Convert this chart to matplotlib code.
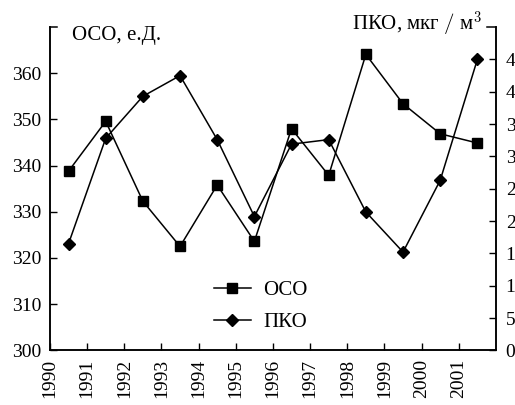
import numpy as np
import matplotlib
matplotlib.use('Agg')
import matplotlib.pyplot as plt

plt.rcParams['font.family'] = ['Liberation Serif', 'DejaVu Serif']
plt.rcParams['mathtext.fontset'] = 'cm'

# данные
years = [1990.5, 1991.5, 1992.5, 1993.5, 1994.5, 1995.5,
         1996.5, 1997.5, 1998.5, 1999.5, 2000.5, 2001.5]
oso = [338.8, 349.6, 332.3, 322.5, 335.8, 323.6,
       348.0, 337.9, 364.1, 353.4, 346.9, 344.9]
pko = [16.5, 32.8, 39.3, 42.5, 32.6, 20.7,
       31.9, 32.6, 21.4, 15.2, 26.3, 45.0]
year_ticks = list(range(1990, 2002))
left_ticks = [300, 310, 320, 330, 340, 350, 360]
right_ticks = [0, 5, 10, 15, 20, 25, 30, 35, 40, 45]

fig = plt.figure(figsize=(5.15, 4.05), dpi=100)
ax = fig.add_axes([0.097, 0.135, 0.866, 0.798])
ax2 = ax.twinx()

l1, = ax.plot(years, oso, color='black', lw=1.1, marker='s', ms=6.5, label='ОСО')
l2, = ax2.plot(years, pko, color='black', lw=1.1, marker='D', ms=6, label='ПКО')

ax.set_xlim(1990, 2002)
ax.set_ylim(300, 370)
ax2.set_ylim(0, 50)
ax.set_xticks(year_ticks)
ax.set_xticklabels([str(y) for y in year_ticks], rotation=90)
ax.set_yticks(left_ticks)
ax2.set_yticks(right_ticks)

ax.tick_params(direction='in', length=5, width=1, labelsize=14, pad=6)
ax2.tick_params(direction='in', length=5, width=1, labelsize=14, pad=7)
ax.tick_params(axis='x', pad=6)

for a in (ax, ax2):
    a.spines['top'].set_visible(False)
    for s in ('left', 'right', 'bottom'):
        a.spines[s].set_linewidth(1.1)

# короткие уголки сверху
ax.plot([0, 0.015], [1, 1], color='black', lw=1.1, transform=ax.transAxes, clip_on=False)
ax.plot([0.98, 1], [1, 1], color='black', lw=1.1, transform=ax.transAxes, clip_on=False)

ax.text(0.049, 0.975, 'ОСО, е.Д.', transform=ax.transAxes, fontsize=15, va='center', ha='left')
ax2.text(0.969, 1.008, r'ПКО, мкг $/$ м$^3$', transform=ax.transAxes, fontsize=15,
         va='center', ha='right')

ax.legend(handles=[l1, l2], loc='center', bbox_to_anchor=(0.473, 0.136), frameon=False,
          fontsize=15, handlelength=1.75, handletextpad=0.6, labelspacing=0.6)

fig.savefig('out.png', dpi=100)
